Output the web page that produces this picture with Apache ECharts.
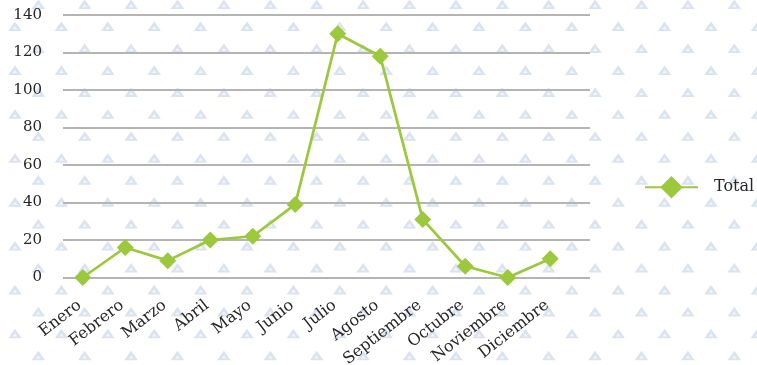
<!DOCTYPE html>
<html>
<head>
<meta charset="utf-8">
<script src="https://cdn.jsdelivr.net/npm/echarts@6/dist/echarts.min.js"></script>
<style>
html,body{margin:0;padding:0;background:#fff;}
#chart{width:757px;height:365px;}
</style>
</head>
<body>
<div id="chart"></div>
<script>
// ---- data ----
var categories = ['Enero','Febrero','Marzo','Abril','Mayo','Junio','Julio','Agosto','Septiembre','Octubre','Noviembre','Diciembre'];
var totalValues = [0, 16, 9, 20, 22, 39, 130, 118, 31, 6, 0, 10];
var seriesName = 'Total';
var yTicks = [0, 20, 40, 60, 80, 100, 120, 140];

// ---- decorative background pattern (triangles) ----
(function(){
  var W = 757, H = 365;
  var c = document.createElement('canvas');
  c.width = W; c.height = H;
  var ctx = c.getContext('2d');
  ctx.fillStyle = '#ffffff';
  ctx.fillRect(0,0,W,H);
  var dx = 46.4, dy = 21.95;
  for (var r = 0; r * dy < H + 10; r++) {
    var cy = 4.5 + r * dy;
    var x0 = (r % 2 === 0) ? 38.3 : 15;
    for (var cx = x0 - dx; cx < W + 10; cx += dx) {
      ctx.fillStyle = '#dae3ef';
      ctx.beginPath();
      ctx.moveTo(cx, cy - 5);
      ctx.lineTo(cx + 6.8, cy + 4.6);
      ctx.lineTo(cx - 6.8, cy + 4.6);
      ctx.closePath();
      ctx.fill();
      ctx.fillStyle = '#f4f7fa';
      ctx.beginPath();
      ctx.moveTo(cx, cy - 0.3);
      ctx.lineTo(cx + 2.3, cy + 2.7);
      ctx.lineTo(cx - 2.3, cy + 2.7);
      ctx.closePath();
      ctx.fill();
    }
  }
  document.getElementById('chart').style.background = 'url(' + c.toDataURL() + ')';
})();

var green = '#9bc83c';
var font = 'DejaVu Serif';
var textColor = '#262626';
var chart = echarts.init(document.getElementById('chart'), null, {renderer: 'canvas'});
chart.setOption({
  backgroundColor: 'transparent',
  animation: false,
  textStyle: {fontFamily: font},
  grid: [
    {left: 63, right: 167, top: 15, bottom: 87.5, containLabel: false, outerBoundsMode: 'none'},
    {left: 61.5, right: 185.5, top: 15, bottom: 87.5, containLabel: false, outerBoundsMode: 'none'}
  ],
  legend: {
    data: [seriesName],
    left: 644,
    top: 176,
    itemWidth: 53,
    itemHeight: 28,
    itemGap: 10,
    textStyle: {fontFamily: font, fontSize: 16, color: textColor, padding: [0, 0, 0, 11]},
    padding: 0
  },
  xAxis: [
    {type: 'category', gridIndex: 0, data: categories, show: false},
    {
      type: 'category', gridIndex: 1, data: categories, boundaryGap: true,
      axisLine: {show: false}, axisTick: {show: false},
      axisLabel: {rotate: 38, margin: 23.5, interval: 0, fontFamily: font, fontSize: 16, color: textColor, padding: [0, 4, 0, 0]}
    }
  ],
  yAxis: [
    {
      type: 'value', gridIndex: 0, min: yTicks[0], max: yTicks[yTicks.length-1], interval: 20,
      axisLine: {show: false}, axisTick: {show: false},
      splitLine: {lineStyle: {color: '#b4b4b4', width: 2}},
      axisLabel: {margin: 21, fontFamily: font, fontSize: 15, color: textColor}
    },
    {type: 'value', gridIndex: 1, min: yTicks[0], max: yTicks[yTicks.length-1], interval: 20, show: false, splitLine: {show: false}}
  ],
  series: [{
    name: seriesName,
    type: 'line',
    xAxisIndex: 1, yAxisIndex: 1,
    data: totalValues,
    symbol: 'diamond',
    symbolSize: 17,
    showAllSymbol: true,
    lineStyle: {color: green, width: 2.75},
    itemStyle: {color: green, borderWidth: 0},
    emphasis: {disabled: true}
  }]
});
</script>
</body>
</html>
